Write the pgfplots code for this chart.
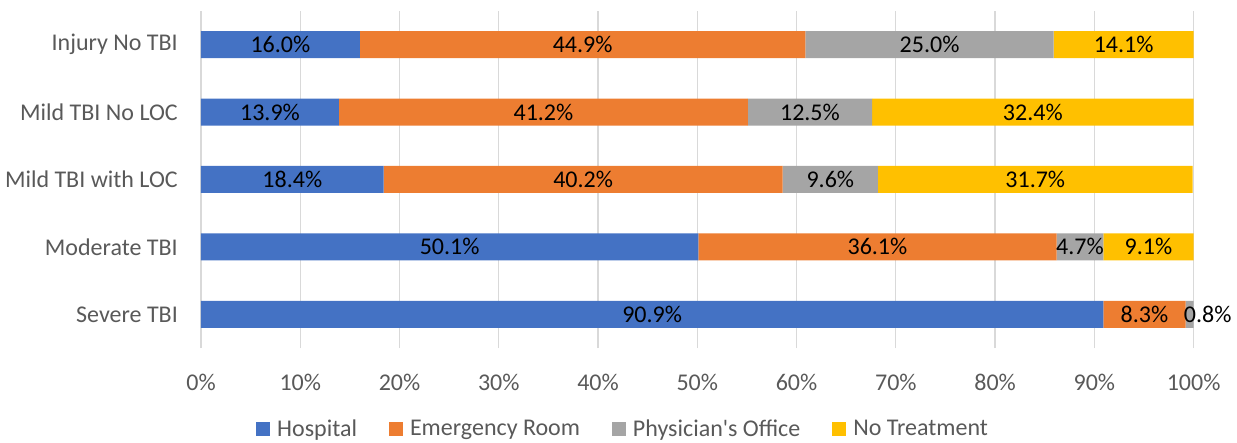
\documentclass[border=0pt]{standalone}
\usepackage{pgfplots}
\pgfplotsset{compat=1.18}
\usepackage{fontspec}
\setmainfont{Carlito}

\definecolor{hosp}{HTML}{4472C4}
\definecolor{er}{HTML}{ED7D31}
\definecolor{phys}{HTML}{A5A5A5}
\definecolor{notr}{HTML}{FFC000}
\definecolor{txt}{HTML}{595959}
\definecolor{gridc}{HTML}{D9D9D9}

\begin{document}
\begin{tikzpicture}[font=\fontsize{24bp}{28bp}\selectfont]
\begin{axis}[
    xbar stacked,
    bar width=27bp,
    x=9.926bp, y=67.4bp,
    xmin=0, xmax=100, ymin=-0.5, ymax=4.5,
    axis line style={draw=none},
    major tick length=0pt,
    xmajorgrids,
    grid style={color=gridc, line width=1.3bp},
    xtick={0,10,...,100},
    xticklabel={\pgfmathprintnumber{\tick}\%},
    ytick={0,1,2,3,4},
    yticklabels={Severe TBI, Moderate TBI, Mild TBI with LOC, Mild TBI No LOC, Injury No TBI},
    /pgf/number format/assume math mode=true,
    tick label style={text=txt, inner sep=0pt},
    yticklabel style={anchor=east, xshift=-23bp},
    xticklabel style={anchor=center, yshift=-34bp},
    clip=false,
    point meta=rawx,
    visualization depends on=rawx \as \rawx,
    nodes near coords={\pgfmathfloatifflags{\pgfplotspointmeta}{0}{}{\pgfmathprintnumber[fixed,fixed zerofill,precision=1]{\pgfplotspointmeta}\%}},
    every node near coord/.append style={anchor=center, text=black, inner sep=0pt,
        xshift={(\rawx<1)*18bp}},
    legend columns=-1,
    legend style={at={(0.0554,0)}, anchor=west, yshift=-81bp, draw=none, fill=none,
        inner sep=0pt, text=txt, cells={anchor=west},
        /tikz/every odd column/.append style={column sep=5bp},
        /tikz/every even column/.append style={column sep=30bp}},
    legend image code/.code={\fill[#1] (0bp,-7bp) rectangle (14bp,7bp);},
]
% order: Injury No TBI, Mild No LOC, Mild with LOC, Moderate, Severe
\addplot[fill=hosp, draw=none] coordinates {(16.0,4) (13.9,3) (18.4,2) (50.1,1) (90.9,0)};
\addplot[fill=er, draw=none] coordinates {(44.9,4) (41.2,3) (40.2,2) (36.1,1) (8.3,0)};
\addplot[fill=phys, draw=none] coordinates {(25.0,4) (12.5,3) (9.6,2) (4.7,1) (0.8,0)};
\addplot[fill=notr, draw=none] coordinates {(14.1,4) (32.4,3) (31.7,2) (9.1,1) (0,0)};
\legend{Hospital, Emergency Room, Physician\textquotesingle s Office, No Treatment}
\end{axis}
\pgfresetboundingbox
\path[use as bounding box] (-201bp,-95bp) rectangle (1036bp,348bp);
\end{tikzpicture}
\end{document}
